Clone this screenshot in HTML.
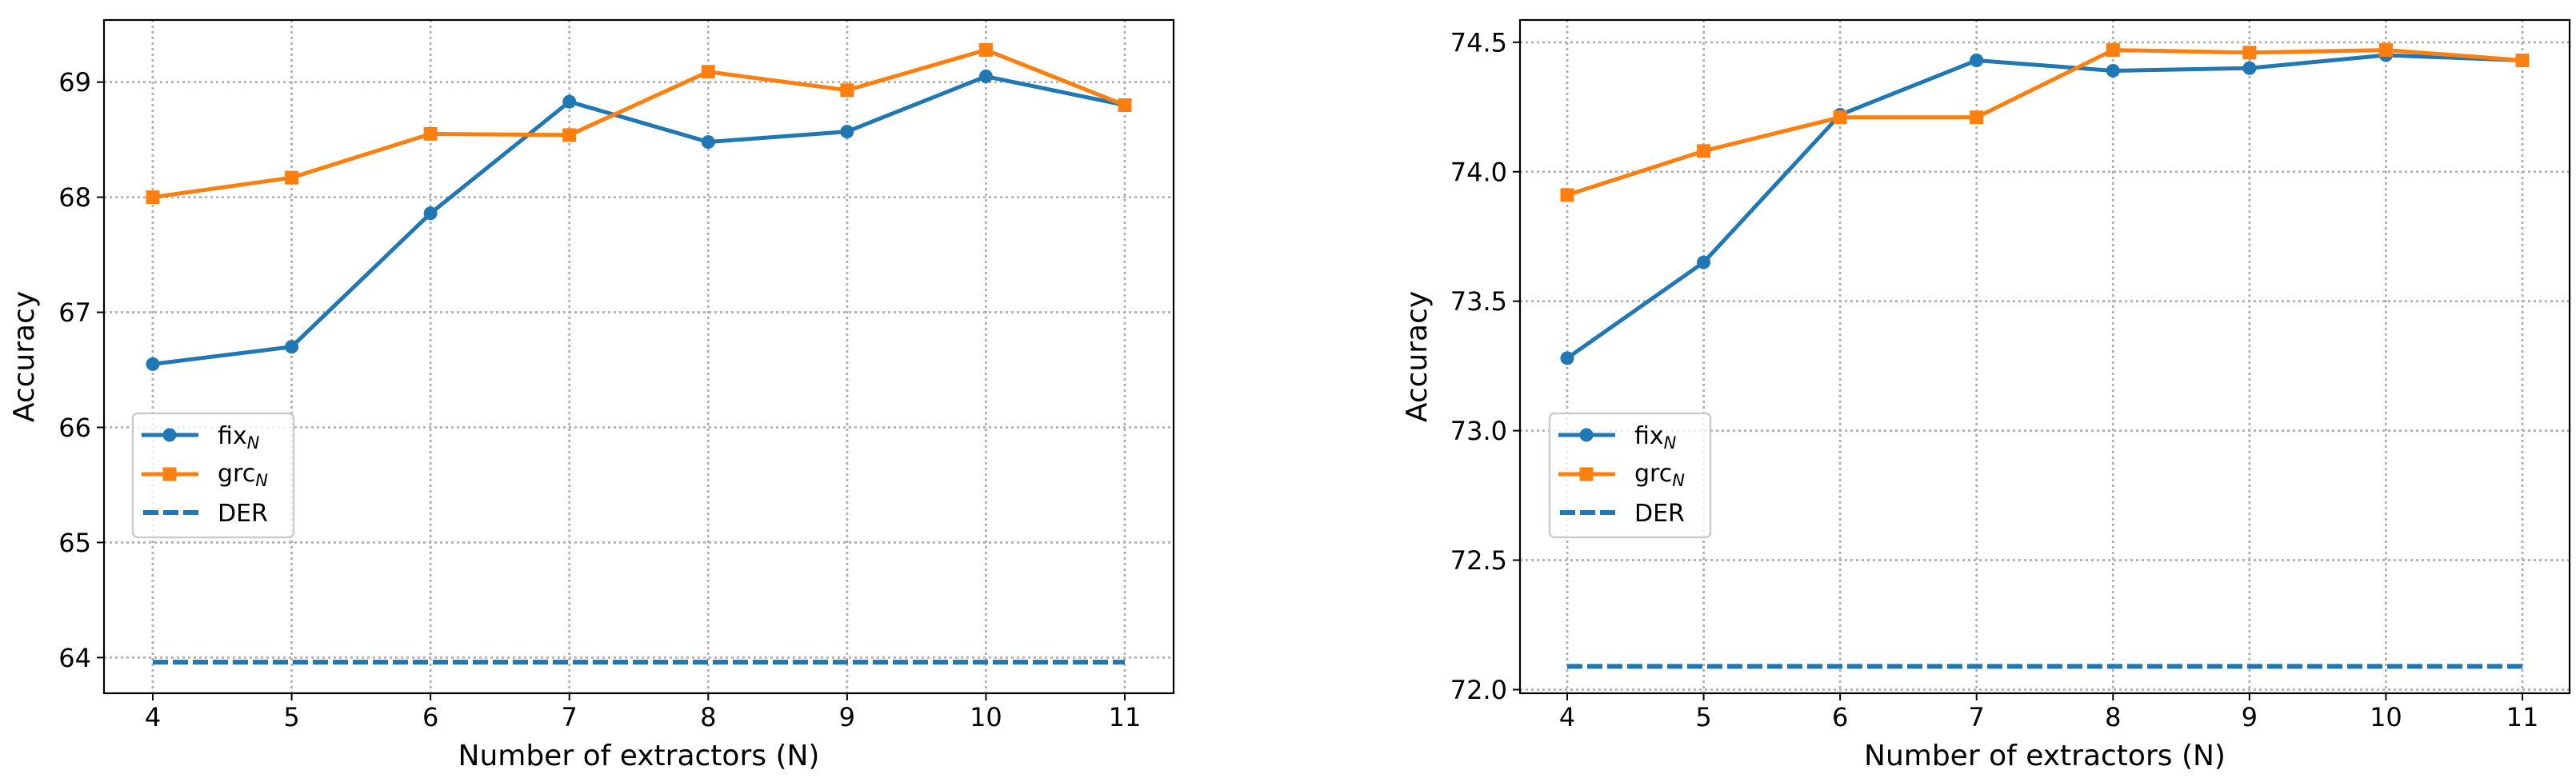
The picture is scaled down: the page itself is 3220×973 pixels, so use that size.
<!DOCTYPE html>
<html><head><meta charset="utf-8"><style>
html,body{margin:0;padding:0;background:#fff;}
svg{display:block;font-family:"DejaVu Sans","Liberation Sans",sans-serif;}
</style></head><body>
<svg id="fig" width="3220" height="973" viewBox="0 0 3220 973" xmlns="http://www.w3.org/2000/svg"></svg>
<script>
const categories = [4,5,6,7,8,9,10,11];
const leftFix = [66.55,66.70,67.86,68.83,68.48,68.57,69.05,68.80];
const leftGrc = [68.00,68.17,68.55,68.54,69.09,68.93,69.28,68.80];
const leftDer = 63.96;
const leftTicks = [64,65,66,67,68,69];
const leftTickLabels = ["64","65","66","67","68","69"];
const rightFix = [73.28,73.65,74.22,74.43,74.39,74.40,74.45,74.43];
const rightGrc = [73.91,74.08,74.21,74.21,74.47,74.46,74.47,74.43];
const rightDer = 72.09;
const rightTicks = [72.0,72.5,73.0,73.5,74.0,74.5];
const rightTickLabels = ["72.0","72.5","73.0","73.5","74.0","74.5"];

const NS="http://www.w3.org/2000/svg";
const svg=document.getElementById('fig');
function el(tag,attrs,parent){const e=document.createElementNS(NS,tag);for(const k in attrs)e.setAttribute(k,attrs[k]);(parent||svg).appendChild(e);return e;}

function panel(cfg,fix,grc,der,ticks,tickLabels,prefix){
  const g=el('g',{});
  
  
  const xs=v=>cfg.x4+(v-4)*(cfg.x11-cfg.x4)/7;
  const ys=v=>cfg.top+(cfg.ymax-v)*(cfg.bottom-cfg.top)/(cfg.ymax-cfg.ymin);
  // grid
  categories.forEach(c=>{
    const l=el('line',{x1:xs(c),x2:xs(c),y1:cfg.top,y2:cfg.bottom,stroke:'#b0b0b0','stroke-width':2.8,'stroke-dasharray':'3 4'},g);
    
    
    const t=el('line',{x1:xs(c),x2:xs(c),y1:cfg.bottom,y2:cfg.bottom+9,stroke:'#000','stroke-width':2},g);
    const tx=el('text',{x:xs(c),y:908,'font-size':32,'text-anchor':'middle'},g);
    tx.textContent=c;
    
    
  });
  ticks.forEach((v,i)=>{
    const l=el('line',{x1:cfg.left,x2:cfg.right,y1:ys(v),y2:ys(v),stroke:'#b0b0b0','stroke-width':2.8,'stroke-dasharray':'3 4'},g);
    
    
    el('line',{x1:cfg.left-9,x2:cfg.left,y1:ys(v),y2:ys(v),stroke:'#000','stroke-width':2},g);
    const tx=el('text',{x:cfg.left-16,y:ys(v)+11.5,'font-size':32,'text-anchor':'end'},g);
    tx.textContent=tickLabels[i];
    
    
  });
  // DER
  const d=el('line',{x1:xs(4),x2:xs(11),y1:ys(der),y2:ys(der),stroke:'#1f77b4','stroke-width':6,'stroke-dasharray':'19 6'},g);
  
  
  // fix
  const pf=el('polyline',{points:categories.map((c,i)=>xs(c)+','+ys(fix[i])).join(' '),fill:'none',stroke:'#1f77b4','stroke-width':5,'stroke-linejoin':'round'},g);
  
  
  categories.forEach((c,i)=>{
    const m=el('circle',{cx:xs(c),cy:ys(fix[i]),r:8.5,fill:'#1f77b4'},g);
    
    
  });
  const pg=el('polyline',{points:categories.map((c,i)=>xs(c)+','+ys(grc[i])).join(' '),fill:'none',stroke:'#ff7f0e','stroke-width':5,'stroke-linejoin':'round'},g);
  
  
  categories.forEach((c,i)=>{
    const m=el('rect',{x:xs(c)-8.5,y:ys(grc[i])-8.5,width:17,height:17,fill:'#ff7f0e'},g);
    
    
  });
  // frame
  const f=el('rect',{x:cfg.left,y:cfg.top,width:cfg.right-cfg.left,height:cfg.bottom-cfg.top,fill:'none',stroke:'#000','stroke-width':2.2},g);
  
  
  // labels
  const xl=el('text',{x:(cfg.left+cfg.right)/2,y:957,'font-size':36,'text-anchor':'middle'},g);
  xl.textContent='Number of extractors (N)';
  
  
  const yl=el('text',{x:0,y:0,'font-size':36,'text-anchor':'middle',transform:`translate(${cfg.ylabX},${(cfg.top+cfg.bottom)/2}) rotate(-90)`},g);
  yl.textContent='Accuracy';
  
  
  // legend
  const L=cfg.legX;
  const lg=el('g',{},g);
  
  
  el('rect',{x:L,y:517,width:201,height:155,rx:6,fill:'rgba(255,255,255,0.8)',stroke:'#cccccc','stroke-width':2.5},lg);
  el('line',{x1:L+11,x2:L+82,y1:544,y2:544,stroke:'#1f77b4','stroke-width':5},lg);
  el('circle',{cx:L+46,cy:544,r:8.5,fill:'#1f77b4'},lg);
  el('line',{x1:L+11,x2:L+82,y1:593,y2:593,stroke:'#ff7f0e','stroke-width':5},lg);
  el('rect',{x:L+37.5,y:584.5,width:17,height:17,fill:'#ff7f0e'},lg);
  el('line',{x1:L+13,x2:L+82,y1:641,y2:641,stroke:'#1f77b4','stroke-width':6,'stroke-dasharray':'19 6'},lg);
  const t1=el('text',{x:L+106,y:555,'font-size':30},lg);
  t1.innerHTML='fix<tspan font-size="21" font-style="italic" dy="6">N</tspan>';
  
  
  const t2=el('text',{x:L+106,y:602,'font-size':30},lg);
  t2.innerHTML='grc<tspan font-size="21" font-style="italic" dy="6">N</tspan>';
  
  
  const t3=el('text',{x:L+106,y:652,'font-size':30},lg);
  t3.textContent='DER';
  
  
}
panel({left:130,right:1467,top:25,bottom:867,x4:191,x11:1406,ymin:63.69,ymax:69.54,ylabX:42,legX:166},leftFix,leftGrc,leftDer,leftTicks,leftTickLabels,'left');
panel({left:1900,right:3212,top:25,bottom:867,x4:1959,x11:3153,ymin:71.986,ymax:74.586,ylabX:1783,legX:1937},rightFix,rightGrc,rightDer,rightTicks,rightTickLabels,'right');
</script>
</body></html>
